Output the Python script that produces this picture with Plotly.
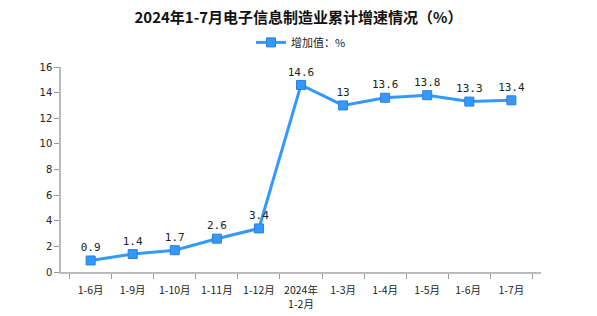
import plotly.graph_objects as go

categories = ["1-6月", "1-9月", "1-10月", "1-11月", "1-12月", "2024年<br>1-2月",
              "1-3月", "1-4月", "1-5月", "1-6月 ", "1-7月"]
values = [0.9, 1.4, 1.7, 2.6, 3.4, 14.6, 13, 13.6, 13.8, 13.3, 13.4]
labels = ["0.9", "1.4", "1.7", "2.6", "3.4", "14.6", "13", "13.6", "13.8", "13.3", "13.4"]
y_ticks = [0, 2, 4, 6, 8, 10, 12, 14, 16]

font_cjk = "Noto Sans CJK SC, DejaVu Sans, sans-serif"

fig = go.Figure()
fig.add_trace(go.Scatter(
    x=categories, y=values, mode="lines+markers+text",
    name="增加值：%",
    text=labels, textposition="top center",
    textfont=dict(family="DejaVu Sans Mono, monospace", size=11, color="#222"),
    line=dict(color="#3399ff", width=3),
    marker=dict(symbol="square", size=9, color="#3399ff",
                line=dict(color="#2a7fd4", width=1)),
    cliponaxis=False,
))

fig.update_layout(
    width=597, height=316,
    margin=dict(l=61, r=56, t=67, b=44),
    paper_bgcolor="white", plot_bgcolor="white",
    title=dict(text="<b>2024年1-7月电子信息制造业累计增速情况（%）</b>",
               x=0.5, xanchor="center", y=0.943, yanchor="middle",
               font=dict(family=font_cjk, size=15, color="#111")),
    legend=dict(orientation="h", x=0.5, xanchor="center", y=1.12, yanchor="middle",
                font=dict(family=font_cjk, size=11, color="#222"),
                bgcolor="rgba(0,0,0,0)"),
    showlegend=True,
    xaxis=dict(type="category", tickson="boundaries", ticks="outside", ticklen=5,
               tickcolor="#999", showline=True, linecolor="#bbb", linewidth=1.5,
               showgrid=False, ticklabelstandoff=8, tickangle=0, automargin=False,
               tickfont=dict(family=font_cjk, size=10.5, color="#222")),
    yaxis=dict(range=[0, 16], tickvals=y_ticks, ticks="outside", ticklen=5,
               tickcolor="#999", showline=True, linecolor="#bbb", linewidth=1.5,
               showgrid=False, zeroline=False, automargin=False,
               tickfont=dict(family="DejaVu Sans, sans-serif", size=10, color="#222")),
)

fig.write_html("out.html")
